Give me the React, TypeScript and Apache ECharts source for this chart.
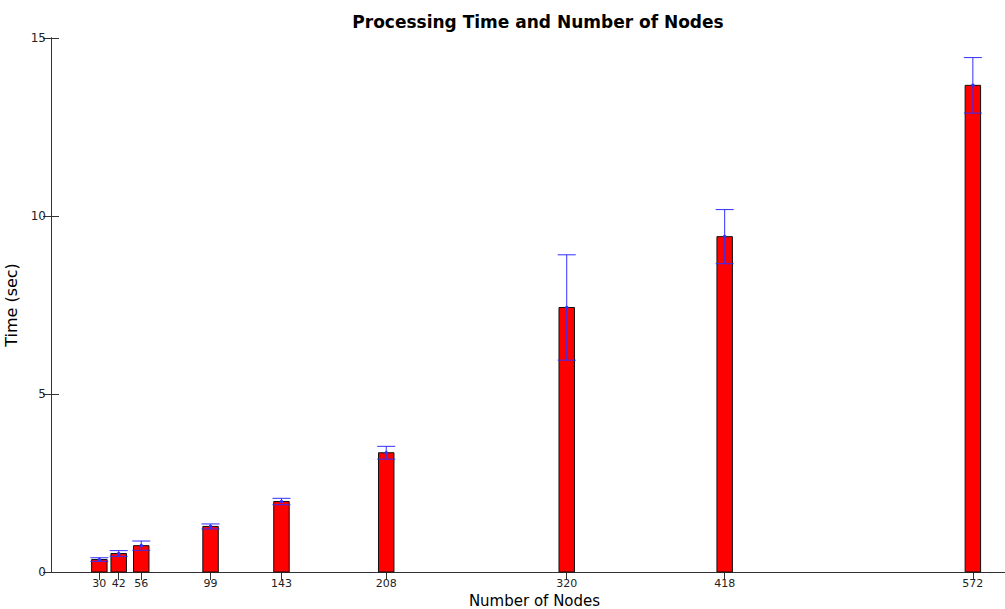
import React, { useEffect, useRef } from "react";
import * as echarts from "echarts";

const nodes = [30, 42, 56, 99, 143, 208, 320, 418, 572];
const meanTime = [0.35, 0.52, 0.74, 1.28, 1.98, 3.35, 7.43, 9.42, 13.67];
const errTime = [0.05, 0.08, 0.13, 0.07, 0.09, 0.18, 1.48, 0.76, 0.78];
const titleText = "Processing Time and Number of Nodes";
const xName = "Number of Nodes";
const yName = "Time (sec)";

const BAR_HALF = 4.8; // half bar width in data units
const CAP_HALF = 9; // px
const FONT = "DejaVu Sans";
const ERR_COLOR = "#2f2fff";

export default function App() {
  const ref = useRef<HTMLDivElement>(null);
  useEffect(() => {
    document.body.style.margin = "0";
    const chart = echarts.init(ref.current!, null, { renderer: "svg" });
    const data = nodes.map((n, i) => [n, meanTime[i], errTime[i]]);
    const axisColor = "#333";
    chart.setOption({
      animation: false,
      backgroundColor: "#fff",
      title: {
        text: titleText,
        left: 533,
        top: 8,
        textAlign: "center",
        textStyle: { fontFamily: FONT, fontSize: 17, fontWeight: "bold", color: "#000" },
      },
      grid: { left: 51, top: 38, bottom: 37, right: 12, containLabel: false, outerBoundsMode: "none" },
      xAxis: [
        {
          type: "value",
          position: "bottom",
          min: 0,
          max: 600,
          axisLine: { show: true, lineStyle: { color: axisColor } },
          axisTick: { show: true, inside: true, length: 8, customValues: nodes, lineStyle: { color: axisColor } },
          axisLabel: { customValues: nodes, fontFamily: FONT, fontSize: 11, color: "#222", margin: 6 },
          splitLine: { show: false },
          name: xName,
          nameLocation: "middle",
          nameGap: 21,
          nameTextStyle: { fontFamily: FONT, fontSize: 15, lineHeight: 15, color: "#000" },
        },
        {
          type: "value",
          position: "top",
          min: 0,
          max: 600,
          axisLine: { show: true, lineStyle: { color: axisColor } },
          axisTick: { show: true, inside: true, length: 8, customValues: nodes, lineStyle: { color: axisColor } },
          axisLabel: { show: false },
          splitLine: { show: false },
        },
      ],
      yAxis: [
        {
          type: "value",
          position: "left",
          min: 0,
          max: 15,
          interval: 5,
          axisLine: { show: true, lineStyle: { color: axisColor } },
          axisTick: { show: true, inside: true, length: 8, lineStyle: { color: axisColor } },
          axisLabel: { fontFamily: FONT, fontSize: 12, color: "#222", margin: 5 },
          splitLine: { show: false },
          name: yName,
          nameLocation: "middle",
          nameGap: 27,
          nameTextStyle: { fontFamily: FONT, fontSize: 16, color: "#000" },
        },
        {
          type: "value",
          position: "right",
          min: 0,
          max: 15,
          interval: 5,
          axisLine: { show: true, lineStyle: { color: axisColor } },
          axisTick: { show: true, inside: true, length: 8, lineStyle: { color: axisColor } },
          axisLabel: { show: false },
          splitLine: { show: false },
        },
      ],
      series: [
        {
          type: "custom",
          name: "Time",
          xAxisIndex: 0,
          yAxisIndex: 0,
          data,
          encode: { x: 0, y: 1 },
          renderItem: (_p: any, api: any) => {
            const x = api.value(0);
            const y = api.value(1);
            const p1 = api.coord([x - BAR_HALF, y]);
            const p2 = api.coord([x + BAR_HALF, 0]);
            return {
              type: "rect",
              shape: { x: p1[0], y: p1[1], width: p2[0] - p1[0], height: p2[1] - p1[1] },
              style: { fill: "#ff0000", stroke: "#111", lineWidth: 1 },
            };
          },
        },
        {
          type: "custom",
          name: "Error",
          xAxisIndex: 0,
          yAxisIndex: 0,
          data,
          encode: { x: 0, y: 1 },
          renderItem: (_p: any, api: any) => {
            const x = api.value(0);
            const m = api.value(1);
            const e = api.value(2);
            const top = api.coord([x, m + e]);
            const bot = api.coord([x, m - e]);
            const mid = api.coord([x, m]);
            const st = { stroke: ERR_COLOR, lineWidth: 1 };
            return {
              type: "group",
              children: [
                { type: "line", shape: { x1: top[0], y1: top[1], x2: bot[0], y2: bot[1] }, style: st },
                { type: "line", shape: { x1: top[0] - CAP_HALF, y1: top[1], x2: top[0] + CAP_HALF, y2: top[1] }, style: st },
                { type: "line", shape: { x1: bot[0] - CAP_HALF, y1: bot[1], x2: bot[0] + CAP_HALF, y2: bot[1] }, style: st },
                { type: "circle", shape: { cx: mid[0], cy: mid[1], r: 1.8 }, style: { fill: ERR_COLOR } },
              ],
            };
          },
        },
      ],
    });
    return () => chart.dispose();
  }, []);
  return (
    <div style={{ width: 1005, height: 609, overflow: "hidden", position: "relative" }}>
      <div ref={ref} style={{ width: 1030, height: 609 }} />
    </div>
  );
}
